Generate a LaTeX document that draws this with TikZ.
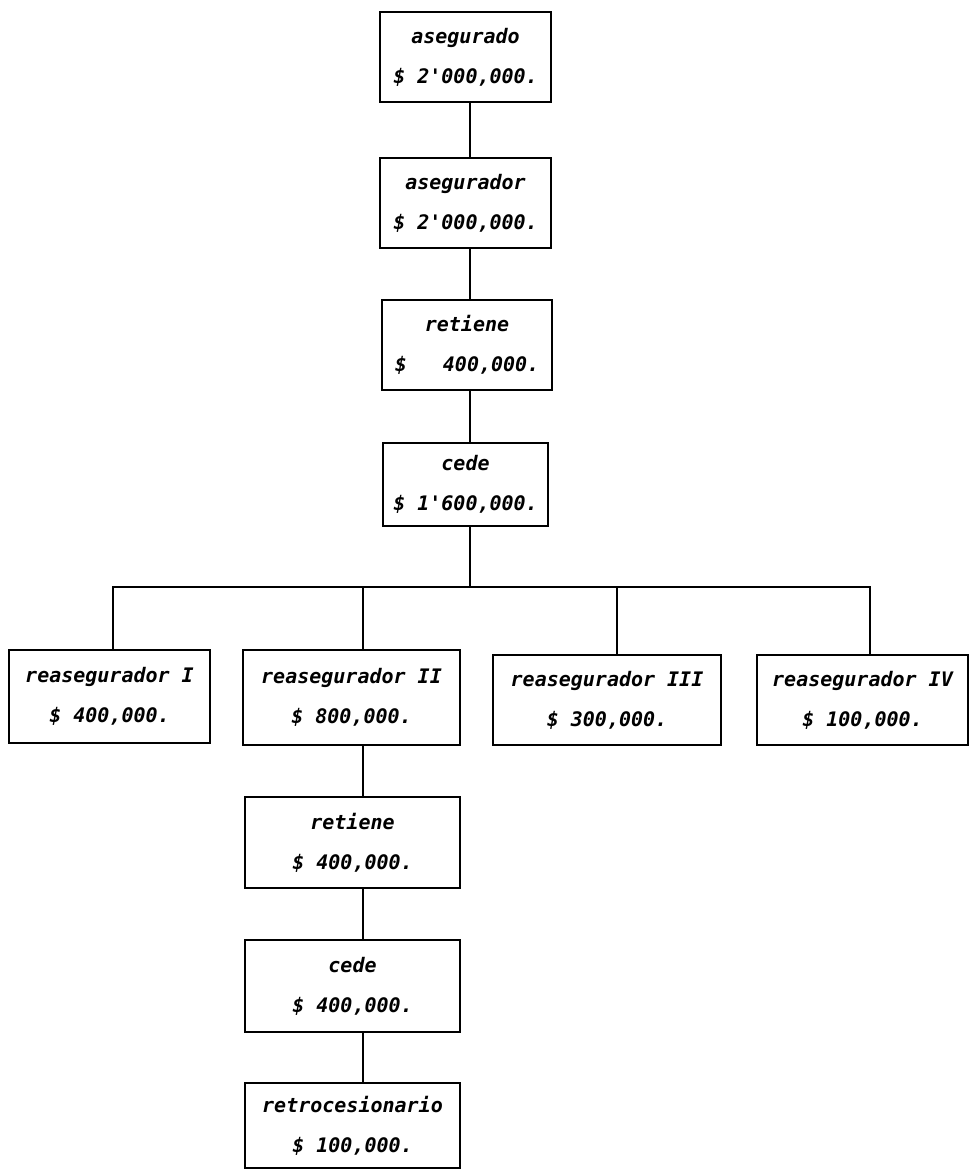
\documentclass[tikz,border=0pt]{standalone}
\usepackage{fontspec}
\newfontfamily\boxfont{DejaVu Sans Mono}
\begin{document}
\begin{tikzpicture}[x=1pt,y=1pt,
  box/.style={draw=black, line width=1.8pt, rectangle, inner sep=0pt, align=center,
    font=\fontsize{20}{40}\selectfont\boxfont\bfseries\itshape},
  link/.style={draw=black, line width=1.8pt}]
\useasboundingbox (0,0) rectangle (970,-1174);
\node[box, minimum width=171, minimum height=90] (A) at (465.5,-57) {asegurado\\\$ 2'000,000.};
\node[box, minimum width=171, minimum height=90] (B) at (465.5,-203) {asegurador\\\$ 2'000,000.};
\node[box, minimum width=170, minimum height=90] (C) at (467,-345) {retiene\\\$\ \ \ 400,000.};
\node[box, minimum width=165, minimum height=83] (D) at (465.5,-484.5) {cede\\\$ 1'600,000.};
\node[box, minimum width=201, minimum height=93] (R1) at (109.5,-696.5) {reasegurador I\\\$ 400,000.};
\node[box, minimum width=217, minimum height=95] (R2) at (351.5,-697.5) {reasegurador II\\\$ 800,000.};
\node[box, minimum width=228, minimum height=90] (R3) at (607,-700) {reasegurador III\\\$ 300,000.};
\node[box, minimum width=211, minimum height=90] (R4) at (862.5,-700) {reasegurador IV\\\$ 100,000.};
\node[box, minimum width=215, minimum height=91] (E) at (352.5,-842.5) {retiene\\\$ 400,000.};
\node[box, minimum width=215, minimum height=92] (F) at (352.5,-986) {cede\\\$ 400,000.};
\node[box, minimum width=215, minimum height=85] (G) at (352.5,-1125.5) {retrocesionario\\\$ 100,000.};
% top column
\draw[link] ([xshift=4.5]A.south) -- ([xshift=4.5]B.north);
\draw[link] ([xshift=4.5]B.south) -- ([xshift=3]C.north);
\draw[link] ([xshift=3]C.south) -- ([xshift=4.5]D.north);
% branching
\coordinate (J) at ([xshift=4.5]D.south |- 0,-587);
\draw[link] ([xshift=4.5]D.south) -- (J);
\draw[link] ([xshift=3.5]R1.north) |- ([xshift=7.5]R4.north |- J) -- ([xshift=7.5]R4.north);
\draw[link] ([xshift=11.5]R2.north) -- ([xshift=11.5]R2.north |- J);
\draw[link] ([xshift=10]R3.north) -- ([xshift=10]R3.north |- J);
% bottom column
\draw[link] ([xshift=11.5]R2.south) -- ([xshift=10.5]E.north);
\draw[link] ([xshift=10.5]E.south) -- ([xshift=10.5]F.north);
\draw[link] ([xshift=10.5]F.south) -- ([xshift=10.5]G.north);
\end{tikzpicture}
\end{document}
